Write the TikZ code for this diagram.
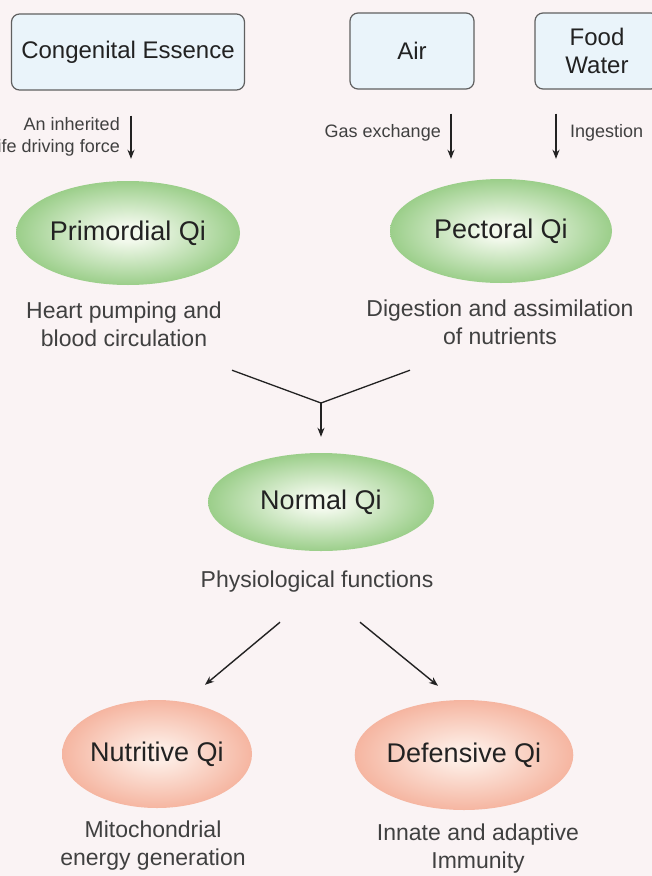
\documentclass[tikz,border=0pt]{standalone}
\usepackage{fontspec}
\setmainfont{Liberation Sans}
\usetikzlibrary{positioning, arrows.meta, shapes.geometric, calc}

\definecolor{bgpink}{RGB}{250,243,244}
\definecolor{boxfill}{RGB}{234,244,250}
\definecolor{boxline}{RGB}{96,96,96}
\definecolor{inktext}{RGB}{34,34,34}
\definecolor{desctext}{RGB}{64,64,64}
\definecolor{qigreenin}{RGB}{242,249,236}
\definecolor{qigreenout}{RGB}{118,188,96}
\definecolor{qipinkin}{RGB}{253,236,228}
\definecolor{qipinkout}{RGB}{242,158,132}
\pgfdeclareradialshading{greenglow}{\pgfpoint{0bp}{0bp}}{color(0bp)=(qigreenin); color(4bp)=(qigreenin); color(34bp)=(qigreenout); color(50bp)=(qigreenout)}
\pgfdeclareradialshading{pinkglow}{\pgfpoint{0bp}{0bp}}{color(0bp)=(qipinkin); color(4bp)=(qipinkin); color(34bp)=(qipinkout); color(50bp)=(qipinkout)}

\begin{document}
\begin{tikzpicture}[x=1pt, y=-1pt,
    every source/.style={draw=boxline, line width=1.2pt, fill=boxfill, rounded corners=8pt, minimum height=76pt, align=center, font=\fontsize{24}{28}\selectfont, text=inktext},
    green qi/.style={ellipse, shading=greenglow, inner sep=0pt, font=\fontsize{27}{30}\selectfont, text=inktext},
    pink qi/.style={ellipse, shading=pinkglow, inner sep=0pt, font=\fontsize{27}{30}\selectfont, text=inktext},
    every desc/.style={align=center, font=\fontsize{23}{28}\selectfont, text=desctext},
    every note/.style={align=right, font=\fontsize{18}{22}\selectfont, text=desctext, inner sep=0pt},
    flow/.style={-{Stealth[length=9pt, width=7pt]}, line width=1.4pt, draw=inktext},
    branch/.style={line width=1.3pt, draw=inktext}]

    % Page and background
    \useasboundingbox (0,0) rectangle (652,876);
    \fill[bgpink] (0,0) rectangle (652,876);

    % Sources - blue boxes
    \node[every source, minimum width=233pt] (Src-1) at (128, 52) {Congenital Essence};
    \node[every source, minimum width=124pt] (Src-2) at (412, 51) {Air};
    \node[every source, minimum width=124pt] (Src-3) at (597, 51) {Food\\Water};

    % Primordial and pectoral Qi - green nodes
    \node[green qi, minimum width=224pt, minimum height=104pt] (Qi-primordial) at (128, 233) {Primordial Qi};
    \node[green qi, minimum width=222pt, minimum height=104pt] (Qi-pectoral) at (501, 231) {Pectoral Qi};

    % Arrows from the sources
    \coordinate (col-1) at (131, 0);
    \coordinate (col-2) at (451, 0);
    \coordinate (col-3) at (556, 0);
    \draw[flow, shorten <=25pt, shorten >=22pt] (Src-1.south -| col-1) -- (Qi-primordial.north -| col-1);
    \draw[flow, shorten <=24pt, shorten >=20pt] (Src-2.south -| col-2) -- (Qi-pectoral.north -| col-2);
    \draw[flow, shorten <=24pt, shorten >=20pt] (Src-3.south -| col-3) -- (Qi-pectoral.north -| col-3);

    % Labels on the arrows
    \node[every note, anchor=east] (Note-1) at (120, 137) {An inherited\\life driving force};
    \node[every note, anchor=east] (Note-2) at (441, 133) {Gas exchange};
    \node[every note, anchor=west] (Note-3) at (570, 133) {Ingestion};

    % Descriptions under the green nodes
    \node[every desc] (Desc-primordial) at (124, 324) {Heart pumping and\\blood circulation};
    \node[every desc] (Desc-pectoral) at (500, 322) {Digestion and assimilation\\of nutrients};

    % Normal Qi
    \node[green qi, minimum width=226pt, minimum height=98pt] (Qi-normal) at (321, 502) {Normal Qi};
    \node[every desc] (Desc-normal) at (317, 582) {Physiological functions};

    % Joining the two green nodes
    \coordinate (join) at (321, 403);
    \draw[branch] ($(Qi-primordial.south)+(104,85)$) -- (join);
    \draw[branch] ($(Qi-pectoral.south)+(-91,87)$) -- (join);
    \draw[flow, shorten >=16pt] (join) -- (Qi-normal.north);

    % Nutritive and defensive Qi - red nodes
    \node[pink qi, minimum width=190pt, minimum height=108pt] (Qi-nutritive) at (157, 754) {Nutritive Qi};
    \node[pink qi, minimum width=184pt, minimum height=110pt] (Qi-defensive) at (464, 755) {Defensive Qi};

    % Arrows from normal Qi
    \draw[flow] ($(Qi-normal.south)+(-41,71)$) -- ($(Qi-nutritive.north)+(48,-15)$);
    \draw[flow] ($(Qi-normal.south)+(39,71)$) -- ($(Qi-defensive.north)+(-26,-14)$);

    % Descriptions under the red nodes
    \node[every desc] (Desc-nutritive) at (153, 846) {Mitochondrial\\energy generation};
    \node[every desc] (Desc-defensive) at (478, 849) {Innate and adaptive\\Immunity};

\end{tikzpicture}
\end{document}
